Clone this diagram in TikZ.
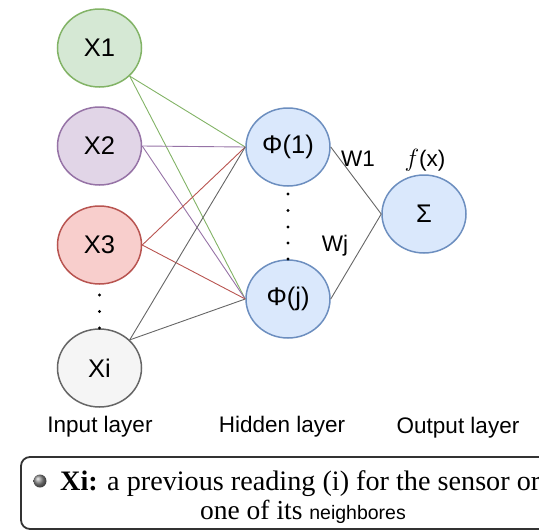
\documentclass[tikz,border=0pt]{standalone}
\usepackage{fontspec}
\setmainfont{Liberation Serif}
\setsansfont{Liberation Sans}
\usetikzlibrary{shapes.geometric}

\definecolor{greenS}{HTML}{82B366}\definecolor{greenF}{HTML}{D5E8D4}
\definecolor{purpS}{HTML}{9673A6}\definecolor{purpF}{HTML}{E1D5E7}
\definecolor{redS}{HTML}{B85450}\definecolor{redF}{HTML}{F8CECC}
\definecolor{grayS}{HTML}{666666}\definecolor{grayF}{HTML}{F5F5F5}
\definecolor{blueS}{HTML}{6C8EBF}\definecolor{blueF}{HTML}{DAE8FC}
\definecolor{boxS}{HTML}{333333}

\tikzset{
  neuron/.style={ellipse, draw, line width=1.5pt, minimum width=84pt,
    minimum height=78pt, inner sep=0pt,
    font=\sffamily\fontsize{25.5}{28}\selectfont},
  inN/.style={neuron, draw=#1S, fill=#1F},
  hidN/.style={neuron, draw=blueS, fill=blueF},
  link/.style={line width=0.9pt, draw=#1},
  layerlabel/.style={font=\sffamily\fontsize{22.5}{26}\selectfont, inner sep=0pt},
  wlabel/.style={font=\sffamily\fontsize{22.5}{26}\selectfont, inner sep=0pt},
  dotmark/.style={fill=black, circle, inner sep=0pt, minimum size=3.2pt},
}

\begin{document}
\begin{tikzpicture}[x=1pt, y=-1pt]
\useasboundingbox (0,0) rectangle (539,531);

% input layer
\node[inN=green] (x1) at (99.5,48)  {X1};
\node[inN=purp]  (x2) at (99.5,146) {X2};
\node[inN=red]   (x3) at (99.5,245) {X3};
\node[inN=gray]  (xi) at (99.5,368) {Xi};

% hidden layer
\node[hidN] (p1) at (288,147) {Φ(1)};
\node[hidN] (pj) at (288,299) {Φ(j)};

% output
\node[hidN] (s) at (424,214) {Σ};

% vertical ellipses between neurons
\foreach \yy [count=\k] in {295,311.5,328} \node[dotmark] (di\k) at (99.5,\yy) {};
\foreach \yy [count=\k] in {194,210.5,227,243,259} \node[dotmark] (dh\k) at (288,\yy) {};

% input to hidden connections
\draw[link=greenS] (x1.south east) -- (p1.west);
\draw[link=greenS] (x1.south east) -- (pj.west);
\draw[link=purpS]  (x2.east) -- (p1.west);
\draw[link=purpS]  (x2.east) -- (pj.west);
\draw[link=redS]   (x3.east) -- (p1.west);
\draw[link=redS]   (x3.east) -- (pj.west);
\draw[link=grayS]  (xi.north east) -- (p1.west);
\draw[link=grayS]  (xi.north east) -- (pj.west);

% hidden to output connections
\draw[link=grayS] (p1.east) -- (s.west);
\draw[link=grayS] (pj.east) -- (s.west);

% weights and output function
\node[wlabel] (w1) at (358,159) {W1};
\node[wlabel] (wj) at (335,246) {Wj};
\node[wlabel] (fx) at (425,160) {{\fontsize{27}{28}\selectfont$f$}(x)};

% layer captions
\node[layerlabel] (lin)  at (100,427) {Input layer};
\node[layerlabel] (lhid) at (282,427) {Hidden layer};
\node[layerlabel] (lout) at (458,428) {Output layer};

% legend box
\draw[draw=boxS, line width=1.8pt, rounded corners=9pt] (21,457) rectangle (580,529);
\shade[ball color=gray!90] (40,481) circle (6.5pt);
\node[anchor=base west, inner sep=0pt, font=\fontsize{28.2}{31}\selectfont] (l1) at (60,490)
  {\textbf{Xi:} a previous reading (i) for the sensor or};
\node[anchor=base, inner sep=0pt, font=\fontsize{27.5}{31}\selectfont] (l2) at (303,519)
  {one of its {\sffamily\fontsize{19.5}{24}\selectfont neighbores}};
\end{tikzpicture}
\end{document}
